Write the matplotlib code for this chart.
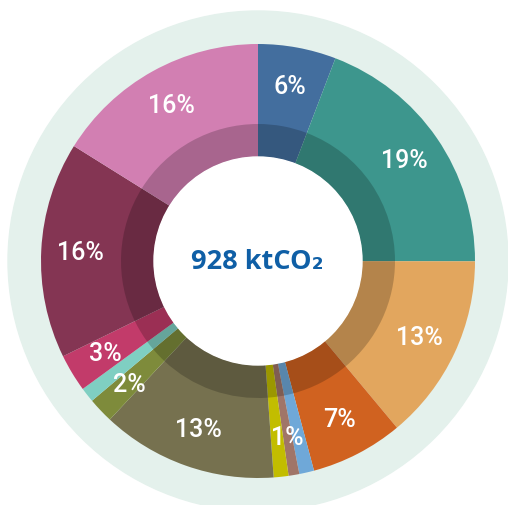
import numpy as np
import matplotlib.pyplot as plt

# Parts du total (%), dans l'ordre horaire depuis le haut
shares = [5.8, 19.2, 13.9, 6.9, 1.1, 0.8, 1.1, 13.1, 1.9, 1.1, 2.8, 16.1, 16.1]
labels = ['6%', '19%', '13%', '7%', '', '1%', '', '13%', '2%', '', '3%', '16%', '16%']
colors = ['#436e9e', '#3d968d', '#e2a65e', '#d06220', '#6fa8d8', '#a07568',
          '#c2bd00', '#76714f', '#7e8b3b', '#7fcfc2', '#c23b6a', '#843553', '#d27fb2']
total_label = '928 ktCO₂'

W, H = 508, 506
cx, cy = 258, H - 262
r_out, r_mid, r_in = 217, 137, 104

fig = plt.figure(figsize=(W / 100, H / 100), dpi=100)
ax = fig.add_axes([0, 0, 1, 1])

# Cercle de fond
ax.add_patch(plt.Circle((cx, cy), 250, color='#e4f1ec', zorder=0))

wedges, _ = ax.pie(shares, colors=colors, startangle=90, counterclock=False,
                   radius=r_out, center=(cx, cy),
                   wedgeprops=dict(width=r_out - r_in, edgecolor='none'))

# Anneau intérieur assombri
ax.pie(shares, colors=['black'] * len(shares), startangle=90, counterclock=False,
       radius=r_mid, center=(cx, cy),
       wedgeprops=dict(width=r_mid - r_in, edgecolor='none', alpha=0.2))

# Trou central blanc
ax.add_patch(plt.Circle((cx, cy), r_in, color='white', zorder=3))

for w, lab in zip(wedges, labels):
    if not lab:
        continue
    a = np.deg2rad((w.theta1 + w.theta2) / 2)
    ax.text(cx + 178 * np.cos(a), cy + 178 * np.sin(a), lab,
            ha='center', va='center', color='white', fontsize=18,
            family=['Roboto', 'DejaVu Sans'], weight='medium', zorder=4)

ax.text(cx - 1, cy, total_label, ha='center', va='center', color='#0f5fa6',
        fontsize=19.5, weight='bold', family=['Open Sans', 'DejaVu Sans'], zorder=4)

ax.set_xlim(0, W)
ax.set_ylim(0, H)
ax.set_aspect('equal')
ax.axis('off')

fig.savefig('out.png', dpi=100)
